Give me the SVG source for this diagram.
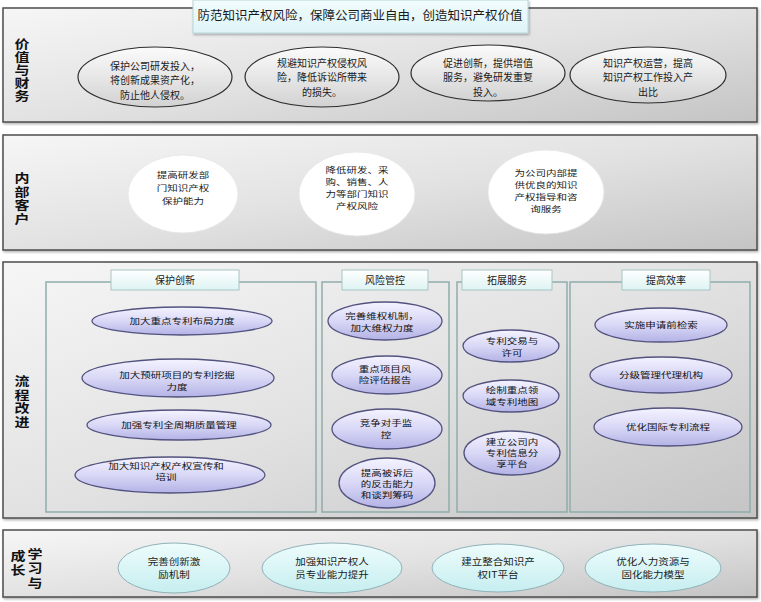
<svg xmlns="http://www.w3.org/2000/svg" width="761" height="602" viewBox="0 0 761 602">
<defs>
<linearGradient id="panelG" x1="0" y1="0" x2="1" y2="1">
<stop offset="0" stop-color="#f6f6f6"/><stop offset="0.5" stop-color="#e2e2e2"/><stop offset="1" stop-color="#c4c4c4"/>
</linearGradient>
<linearGradient id="grayE" x1="0" y1="0" x2="0" y2="1">
<stop offset="0" stop-color="#fbfbfb"/><stop offset="1" stop-color="#d2d2d2"/>
</linearGradient>
<linearGradient id="lavE" x1="0" y1="0" x2="0" y2="1">
<stop offset="0" stop-color="#f4f3ff"/><stop offset="0.5" stop-color="#d9d8f6"/><stop offset="1" stop-color="#b3b2e6"/>
</linearGradient>
<linearGradient id="cyanE" x1="0" y1="0" x2="0" y2="1">
<stop offset="0" stop-color="#eefcfc"/><stop offset="1" stop-color="#c6eef0"/>
</linearGradient>
<linearGradient id="tabG" x1="0" y1="0" x2="0" y2="1">
<stop offset="0" stop-color="#ffffff"/><stop offset="1" stop-color="#def3f3"/>
</linearGradient>
<linearGradient id="titleG" x1="0" y1="0" x2="0" y2="1">
<stop offset="0" stop-color="#f2fcfd"/><stop offset="1" stop-color="#def4f7"/>
</linearGradient>
<filter id="sh" x="-5%" y="-10%" width="110%" height="125%">
<feDropShadow dx="1" dy="1.5" stdDeviation="1.2" flood-color="#000" flood-opacity="0.3"/>
</filter>
</defs>
<style>
text{font-family:"Noto Sans CJK SC","Noto Sans",sans-serif;fill:#1a1a1a;text-anchor:middle}
.panel{fill:url(#panelG);stroke:#4d4d4d;stroke-width:1.5}
.lab{font-size:15px;font-weight:bold;fill:#111;writing-mode:vertical-rl;text-anchor:start}
.t{font-size:10px}
.w{font-size:10.5px}
.tt{font-size:10.5px;fill:#111}
.ge{fill:url(#grayE);stroke:#2e2e2e;stroke-width:1.2}
.we{fill:#ffffff;stroke:#e6e6e6;stroke-width:0.8}
.le{fill:url(#lavE);stroke:#52527e;stroke-width:1.3}
.ce{fill:url(#cyanE);stroke:#8fb2b8;stroke-width:1}
.sub{fill:none;stroke:#8fadaa;stroke-width:1.5}
.tab{fill:url(#tabG);stroke:#a9c4c4;stroke-width:1}
</style>

<!-- Panels -->
<g id="panel-finance">
<rect class="panel" x="3" y="8" width="754" height="114" filter="url(#sh)"/>
<text class="lab" x="0" y="0" transform="translate(22,38) scale(1,0.82)" style="letter-spacing:0.85px">价值与财务</text>
</g>
<g id="title">
<rect x="193" y="0" width="335" height="33" fill="url(#titleG)" stroke="#b8d6da" stroke-width="1" filter="url(#sh)"/>
<text x="360" y="20" font-size="12.5">防范知识产权风险，保障公司商业自由，创造知识产权价值</text>
</g>

<g id="panel-customer">
<rect class="panel" x="3" y="135" width="754" height="115" filter="url(#sh)"/>
<text class="lab" x="0" y="0" transform="translate(22,172) scale(1,0.82)" style="letter-spacing:1.77px">内部客户</text>
</g>

<g id="panel-process">
<rect class="panel" x="3" y="262" width="754" height="256" filter="url(#sh)"/>
<text class="lab" x="0" y="0" transform="translate(22,375) scale(1,0.82)" style="letter-spacing:1.77px">流程改进</text>
</g>

<g id="panel-learning">
<rect class="panel" x="3" y="530" width="754" height="67" filter="url(#sh)"/>
<text class="lab" x="0" y="0" transform="translate(35,548) scale(1,0.82)" style="letter-spacing:2.6px">学习与</text>
<text class="lab" x="0" y="0" transform="translate(18,550) scale(1,0.82)" style="letter-spacing:2px">成长</text>
</g>

<!-- Finance ellipses -->
<g id="f1"><ellipse class="ge" cx="155" cy="77" rx="77" ry="30"/>
<text class="t"><tspan x="155" y="69.5">保护公司研发投入，</tspan><tspan x="155" y="84">将创新成果资产化，</tspan><tspan x="155" y="98.5">防止他人侵权。</tspan></text></g>
<g id="f2"><ellipse class="ge" cx="322" cy="77" rx="77" ry="30"/>
<text class="t"><tspan x="322" y="66.5">规避知识产权侵权风</tspan><tspan x="322" y="81">险，降低诉讼所带来</tspan><tspan x="322" y="95.5">的损失。</tspan></text></g>
<g id="f3"><ellipse class="ge" cx="488" cy="73" rx="77" ry="28"/>
<text class="t"><tspan x="488" y="66.5">促进创新，提供增值</tspan><tspan x="488" y="81">服务，避免研发重复</tspan><tspan x="488" y="95.5">投入。</tspan></text></g>
<g id="f4"><ellipse class="ge" cx="648" cy="75" rx="78" ry="28"/>
<text class="t"><tspan x="648" y="66.5">知识产权运营，提高</tspan><tspan x="648" y="81">知识产权工作投入产</tspan><tspan x="648" y="95.5">出比</tspan></text></g>

<!-- Customer circles -->
<g id="c1"><ellipse class="we" cx="183" cy="194" rx="55" ry="39"/>
<text class="w" transform="translate(183,188) scale(1,0.78)"><tspan x="0" y="-12.67">提高研发部</tspan><tspan x="0" y="4">门知识产权</tspan><tspan x="0" y="20.67">保护能力</tspan></text></g>
<g id="c2"><ellipse class="we" cx="357" cy="194" rx="58" ry="42"/>
<text class="w" transform="translate(357,188) scale(1,0.78)"><tspan x="0" y="-19.08">降低研发、采</tspan><tspan x="0" y="-3.69">购、销售、人</tspan><tspan x="0" y="11.69">力等部门知识</tspan><tspan x="0" y="27.08">产权风险</tspan></text></g>
<g id="c3"><ellipse class="we" cx="546" cy="192" rx="58" ry="42"/>
<text class="w" transform="translate(546,191) scale(1,0.78)"><tspan x="0" y="-19.08">为公司内部提</tspan><tspan x="0" y="-3.69">供优良的知识</tspan><tspan x="0" y="11.69">产权指导和咨</tspan><tspan x="0" y="27.08">询服务</tspan></text></g>

<!-- Process sub-boxes -->
<g id="box-protect">
<rect class="sub" x="46" y="282" width="270" height="230"/>
<rect class="tab" x="111" y="270" width="128" height="20"/>
<text class="t" x="175" y="284">保护创新</text>
</g>
<g id="box-risk">
<rect class="sub" x="322" y="282" width="127" height="230"/>
<rect class="tab" x="342" y="270" width="86" height="20"/>
<text class="t" x="385" y="284">风险管控</text>
</g>
<g id="box-expand">
<rect class="sub" x="457" y="282" width="110" height="230"/>
<rect class="tab" x="462" y="270" width="90" height="20"/>
<text class="t" x="507" y="284">拓展服务</text>
</g>
<g id="box-eff">
<rect class="sub" x="570" y="282" width="180" height="230"/>
<rect class="tab" x="622" y="270" width="88" height="20"/>
<text class="t" x="666" y="284">提高效率</text>
</g>

<!-- Protect innovation -->
<g id="a1"><ellipse class="le" cx="182" cy="321" rx="90" ry="14"/>
<text class="tt" transform="translate(182,321) scale(1,0.78)" x="0" y="4">加大重点专利布局力度</text></g>
<g id="a2"><ellipse class="le" cx="178" cy="378" rx="96" ry="19"/>
<text class="tt" transform="translate(177,381) scale(1,0.75)"><tspan x="0" y="-3.67">加大预研项目的专利挖掘</tspan><tspan x="0" y="11.67">力度</tspan></text></g>
<g id="a3"><ellipse class="le" cx="179" cy="425" rx="92" ry="15"/>
<text class="tt" transform="translate(179,425) scale(1,0.78)" x="0" y="4">加强专利全周期质量管理</text></g>
<g id="a4"><ellipse class="le" cx="170" cy="475" rx="95" ry="18"/>
<text class="tt" transform="translate(166,471.5) scale(1,0.75)"><tspan x="0" y="-3.67">加大知识产权产权宣传和</tspan><tspan x="0" y="11.67">培训</tspan></text></g>

<!-- Risk control -->
<g id="b1"><ellipse class="le" cx="385" cy="321" rx="57" ry="19"/>
<text class="tt" transform="translate(382,322) scale(1,0.75)"><tspan x="0" y="-3.67">完善维权机制，</tspan><tspan x="0" y="11.67">加大维权力度</tspan></text></g>
<g id="b2"><ellipse class="le" cx="387" cy="375" rx="55" ry="19"/>
<text class="tt" transform="translate(385,374.5) scale(1,0.75)"><tspan x="0" y="-3.67">重点项目风</tspan><tspan x="0" y="11.67">险评估报告</tspan></text></g>
<g id="b3"><ellipse class="le" cx="387" cy="429" rx="55" ry="20"/>
<text class="tt" transform="translate(386,429) scale(1,0.75)"><tspan x="0" y="-3.67">竞争对手监</tspan><tspan x="0" y="11.67">控</tspan></text></g>
<g id="b4"><ellipse class="le" cx="387" cy="483" rx="48" ry="25"/>
<text class="tt" transform="translate(387,484) scale(1,0.75)"><tspan x="0" y="-11.33">提高被诉后</tspan><tspan x="0" y="4">的反击能力</tspan><tspan x="0" y="19.33">和谈判筹码</tspan></text></g>

<!-- Expand services -->
<g id="s1"><ellipse class="le" cx="511" cy="346" rx="48" ry="16"/>
<text class="tt" transform="translate(512,347) scale(1,0.75)"><tspan x="0" y="-3.67">专利交易与</tspan><tspan x="0" y="11.67">许可</tspan></text></g>
<g id="s2"><ellipse class="le" cx="511" cy="396" rx="48" ry="16"/>
<text class="tt" transform="translate(512,396) scale(1,0.75)"><tspan x="0" y="-3.67">绘制重点领</tspan><tspan x="0" y="11.67">域专利地图</tspan></text></g>
<g id="s3"><ellipse class="le" cx="512" cy="453" rx="48" ry="22"/>
<text class="tt" transform="translate(512,453) scale(1,0.75)"><tspan x="0" y="-11.33">建立公司内</tspan><tspan x="0" y="4">专利信息分</tspan><tspan x="0" y="19.33">享平台</tspan></text></g>

<!-- Efficiency -->
<g id="d1"><ellipse class="le" cx="661" cy="325" rx="66" ry="17"/>
<text class="tt" transform="translate(661,325) scale(1,0.78)" x="0" y="4">实施申请前检索</text></g>
<g id="d2"><ellipse class="le" cx="661" cy="375" rx="71" ry="18"/>
<text class="tt" transform="translate(661,375) scale(1,0.78)" x="0" y="4">分级管理代理机构</text></g>
<g id="d3"><ellipse class="le" cx="668" cy="427" rx="74" ry="19"/>
<text class="tt" transform="translate(668,427) scale(1,0.78)" x="0" y="4">优化国际专利流程</text></g>

<!-- Learning -->
<g id="l1"><ellipse class="ce" cx="174" cy="568" rx="56" ry="25"/>
<text class="w" transform="translate(174,568.5) scale(1,0.85)"><tspan x="0" y="-3.65">完善创新激</tspan><tspan x="0" y="11.65">励机制</tspan></text></g>
<g id="l2"><ellipse class="ce" cx="332" cy="568" rx="70" ry="25"/>
<text class="w" transform="translate(332,568.5) scale(1,0.85)"><tspan x="0" y="-3.65">加强知识产权人</tspan><tspan x="0" y="11.65">员专业能力提升</tspan></text></g>
<g id="l3"><ellipse class="ce" cx="498" cy="568" rx="66" ry="24"/>
<text class="w" transform="translate(498,568.5) scale(1,0.85)"><tspan x="0" y="-3.65">建立整合知识产</tspan><tspan x="0" y="11.65">权IT平台</tspan></text></g>
<g id="l4"><ellipse class="ce" cx="653" cy="568" rx="68" ry="24"/>
<text class="w" transform="translate(653,568.5) scale(1,0.85)"><tspan x="0" y="-3.65">优化人力资源与</tspan><tspan x="0" y="11.65">固化能力模型</tspan></text></g>

<g id="connectors"></g>
</svg>
